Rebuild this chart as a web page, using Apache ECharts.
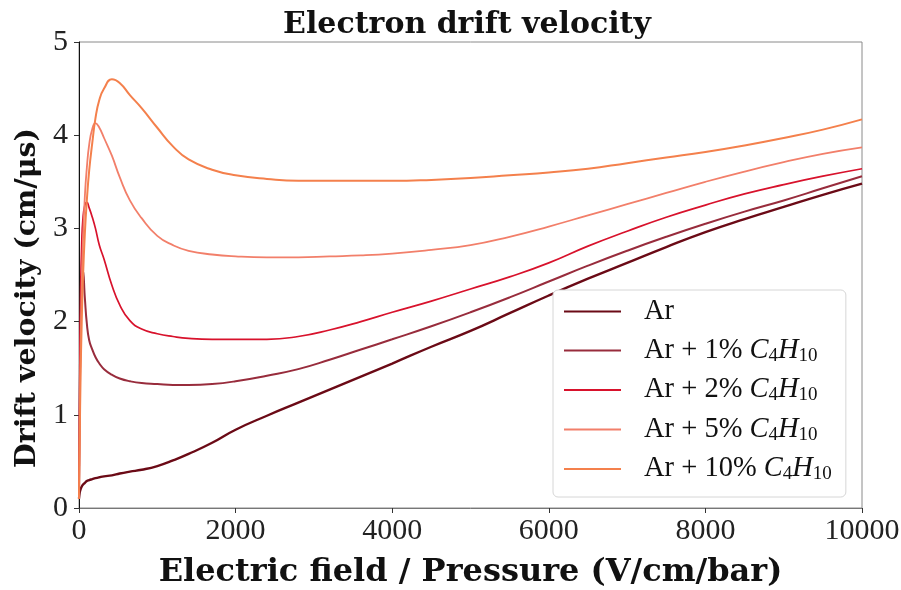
<!DOCTYPE html>
<html>
<head>
<meta charset="utf-8">
<script src="https://cdn.jsdelivr.net/npm/echarts@6/dist/echarts.min.js"></script>
<style>
  html, body { margin: 0; padding: 0; background: #ffffff; }
  #chart { width: 901px; height: 590px; }
</style>
</head>
<body>
<div id="chart"></div>
<script>
// Reduced electric field E/p (V/cm/bar), shared by all gas mixtures
const field = [0, 10, 20, 35, 50, 75, 100, 130, 170, 210, 260, 320, 420, 520, 650, 800,
  1000, 1200, 1400, 1700, 2000, 2400, 2800, 3200, 3600, 4000, 4500, 5000, 5500, 6000,
  6500, 7000, 7500, 8000, 8500, 9000, 9500, 10000];

// Electron drift velocity (cm/us) for each mixture
const driftAr = [0.10, 0.17, 0.20, 0.23, 0.25, 0.27, 0.29, 0.30, 0.31, 0.32, 0.33, 0.34, 0.35, 0.37, 0.39, 0.41,
  0.45, 0.51, 0.58, 0.70, 0.84, 0.99, 1.13, 1.27, 1.41, 1.55, 1.73, 1.90, 2.09, 2.28,
  2.46, 2.63, 2.80, 2.96, 3.10, 3.23, 3.36, 3.48];
const driftAr1 = [0.10, 1.20, 1.90, 2.40, 2.55, 2.25, 1.98, 1.80, 1.70, 1.62, 1.55, 1.49, 1.43, 1.39, 1.36, 1.34,
  1.33, 1.32, 1.32, 1.33, 1.36, 1.42, 1.49, 1.59, 1.70, 1.81, 1.95, 2.10, 2.26, 2.43,
  2.60, 2.76, 2.91, 3.05, 3.18, 3.30, 3.43, 3.56];
const driftAr2 = [0.10, 1.50, 2.30, 2.85, 3.10, 3.25, 3.28, 3.22, 3.12, 3.00, 2.82, 2.67, 2.39, 2.18, 2.01, 1.92,
  1.87, 1.84, 1.82, 1.81, 1.81, 1.81, 1.84, 1.91, 2.00, 2.10, 2.22, 2.35, 2.48, 2.63,
  2.81, 2.97, 3.12, 3.25, 3.37, 3.47, 3.56, 3.64];
const driftAr5 = [0.10, 1.00, 1.70, 2.40, 2.85, 3.35, 3.65, 3.90, 4.07, 4.13, 4.08, 3.97, 3.78, 3.55, 3.30, 3.11,
  2.92, 2.82, 2.76, 2.72, 2.70, 2.69, 2.69, 2.70, 2.71, 2.73, 2.77, 2.82, 2.91, 3.02,
  3.14, 3.26, 3.38, 3.50, 3.61, 3.71, 3.80, 3.87];
const driftAr10 = [0.10, 0.80, 1.40, 2.00, 2.45, 2.95, 3.30, 3.62, 3.92, 4.18, 4.38, 4.50, 4.60, 4.56, 4.43, 4.29,
  4.08, 3.88, 3.74, 3.63, 3.57, 3.53, 3.51, 3.51, 3.51, 3.51, 3.52, 3.54, 3.57, 3.60,
  3.64, 3.70, 3.76, 3.82, 3.89, 3.97, 4.06, 4.17];

const seriesNames = ['Ar', 'Ar + 1% C4H10', 'Ar + 2% C4H10', 'Ar + 5% C4H10', 'Ar + 10% C4H10'];
const seriesValues = [driftAr, driftAr1, driftAr2, driftAr5, driftAr10];
const seriesColors = ['#6b0a16', '#982c3c', '#d8122c', '#f27f6a', '#f4804c'];
const seriesWidths = [2.4, 2.0, 1.7, 1.8, 2.0];

const xTicks = { min: 0, max: 10000, step: 2000 };
const yTicks = { min: 0, max: 5, step: 1 };

const serif = '"Liberation Serif", "DejaVu Serif", serif';
const boldSerif = '"DejaVu Serif", "Liberation Serif", serif';

const chart = echarts.init(document.getElementById('chart'), null, { renderer: 'canvas' });

const series = seriesNames.map((name, k) => ({
  name: name,
  type: 'line',
  data: field.map((e, i) => [e, seriesValues[k][i]]),
  smooth: 0.5,
  symbol: 'none',
  showSymbol: false,
  lineStyle: { color: seriesColors[k], width: seriesWidths[k] },
  itemStyle: { color: seriesColors[k] },
  z: 2 + k
}));

// Legend labels: gas name plus C4H10 with subscripts
function legendLabel(name) {
  const idx = name.indexOf('C4H10');
  if (idx < 0) return '{n|' + name + '}';
  return '{n|' + name.slice(0, idx) + '}{i|C}{s|4}{i|H}{s|10}';
}

chart.setOption({
  animation: false,
  backgroundColor: '#ffffff',
  title: {
    text: 'Electron drift velocity',
    left: 462,
    textAlign: 'center',
    top: 5,
    textStyle: { fontFamily: boldSerif, fontWeight: 'bold', fontSize: 30, color: '#111' }
  },
  grid: {
    left: 79, right: 39, top: 42, bottom: 82,
    outerBoundsMode: 'none',
    containLabel: false,
    show: true, borderColor: '#8a8a8a', borderWidth: 1, backgroundColor: 'transparent'
  },
  legend: {
    orient: 'vertical',
    left: 553,
    top: 290,
    padding: [7, 14, 13, 10],
    itemWidth: 57,
    itemHeight: 14,
    itemGap: 10,
    itemStyle: { opacity: 0 },
    backgroundColor: '#ffffff',
    borderColor: '#d6d6d6',
    borderWidth: 1,
    borderRadius: 5,
    data: seriesNames,
    formatter: legendLabel,
    textStyle: {
      padding: [0, 0, 0, 18],
      rich: {
        n: { fontFamily: serif, fontSize: 28.5, color: '#111', lineHeight: 30 },
        i: { fontFamily: serif, fontStyle: 'italic', fontSize: 28.5, color: '#111', lineHeight: 30 },
        s: { fontFamily: serif, fontSize: 19, color: '#111', lineHeight: 14, verticalAlign: 'bottom' }
      }
    }
  },
  xAxis: {
    type: 'value',
    min: xTicks.min, max: xTicks.max, interval: xTicks.step,
    name: 'Electric field / Pressure (V/cm/bar)',
    nameLocation: 'middle',
    nameGap: 49,
    nameTextStyle: { fontFamily: boldSerif, fontWeight: 'bold', fontSize: 32, color: '#111' },
    axisLine: { show: true, onZero: false, lineStyle: { color: '#777', width: 1 } },
    axisTick: { show: true, inside: false, length: 5, lineStyle: { color: '#333' } },
    axisLabel: { fontFamily: serif, fontSize: 30, color: '#222', margin: 8, formatter: v => String(v) },
    splitLine: { show: false }
  },
  yAxis: {
    type: 'value',
    min: yTicks.min, max: yTicks.max, interval: yTicks.step,
    name: 'Drift velocity (cm/\u03bcs)',
    nameLocation: 'middle',
    nameGap: 32,
    nameTextStyle: { fontFamily: boldSerif, fontWeight: 'bold', fontSize: 28.5, color: '#111', padding: [0, 46, 0, 0] },
    axisLine: { show: true, onZero: false, lineStyle: { color: '#111', width: 1 } },
    axisTick: { show: true, inside: false, length: 5, lineStyle: { color: '#333' } },
    axisLabel: { fontFamily: serif, fontSize: 30, color: '#222', margin: 11, formatter: v => String(v) },
    splitLine: { show: false }
  },
  series: series
});
</script>
</body>
</html>
